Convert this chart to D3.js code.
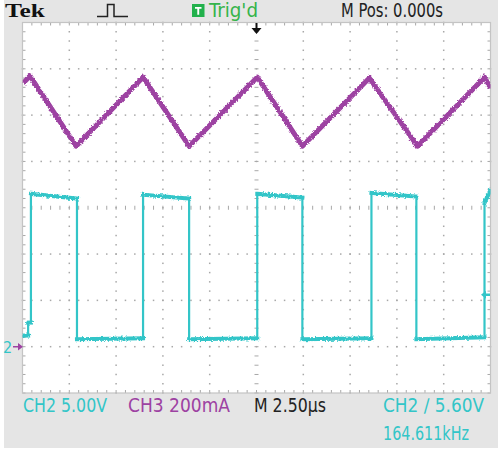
<!DOCTYPE html>
<html><head><meta charset="utf-8">
<script src="https://cdn.jsdelivr.net/npm/d3@7/dist/d3.min.js"></script>
<style>html,body{margin:0;padding:0;background:#fff;overflow:hidden}</style>
</head><body>
<svg id="c" width="502" height="451"></svg>
<script>
// ---- data ----
// CH2: switch-node voltage (V), 5.00 V/div, ground 3 div below centre
const ch2Time  = [0, 0.30, 0.30, 0.45, 0.45, 2.91, 2.91, 6.44, 6.44, 8.90, 8.90, 12.54, 12.54, 14.95, 14.95, 18.64, 18.64, 21.04, 21.04, 24.68, 24.68, 24.85, 25.0];
const ch2Volts = [1.2, 1.2, 2.6, 2.6, 16.5, 16.0, 0.8, 0.9, 16.4, 16.0, 0.8, 0.9, 16.5, 16.1, 0.8, 0.9, 16.6, 16.2, 0.8, 1.0, 15.5, 16.3, 16.9];
// CH3: inductor current (mA), 200 mA/div, referenced to screen centre
const ch3Time  = [0.03, 0.40, 2.86, 6.44, 8.90, 12.54, 14.95, 18.53, 21.10, 24.68, 25.0];
const ch3mA    = [538, 569, 266, 564, 266, 564, 266, 560, 266, 564, 517];
// axis settings
const timePerDiv = 2.5;   // µs
const ch2PerDiv = 5;      // V
const ch3PerDiv = 200;    // mA
const ch2GroundDiv = -3;  // divisions from centre
const trigLevel = 5.6;    // V
const headerLabels = {tek: "Tek", trig: "Trig'd", mpos: "M Pos: 0.000s"};
const footerLabels = ["CH2  5.00V", "CH3  200mA", "M 2.50\u00b5s", "CH2 \u2215 5.60V", "164.611kHz"];

// ---- layout ----
const svg = d3.select("#c");
const L = 22.5, R = 490.5, T = 22.5, B = 393;
const cyan = "#33c5c8", purple = "#9d42a2", green = "#35b44a";
const x = d3.scaleLinear().domain([0, 10 * timePerDiv]).range([L, R]);
const yDiv = d3.scaleLinear().domain([-4, 4]).range([B, T]);
const y2 = d3.scaleLinear().domain([(-4 - ch2GroundDiv) * ch2PerDiv, (4 - ch2GroundDiv) * ch2PerDiv]).range([B, T]);
const y3 = d3.scaleLinear().domain([-4 * ch3PerDiv, 4 * ch3PerDiv]).range([B, T]);

svg.append("rect").attr("x", 4).attr("y", 0).attr("width", 494).attr("height", 448).attr("fill", "#e5e5e5");
svg.append("rect").attr("x", L).attr("y", T).attr("width", R - L).attr("height", B - T).attr("fill", "#fff");

// grid
const g = svg.append("g");
const xs = d3.range(0, 10 * timePerDiv + 0.001, timePerDiv / 5);
const ys = d3.range(-4, 4.001, 0.2);
const gridCol = "#a8a8a8";
for (let d = 1; d < 10; d++) {
  const xv = x(d * timePerDiv);
  ys.forEach(v => {
    if (d === 5) g.append("rect").attr("x", xv - 2).attr("y", yDiv(v) - 0.5).attr("width", 4).attr("height", 1).attr("fill", gridCol);
    else g.append("rect").attr("x", xv - 0.75).attr("y", yDiv(v) - 0.75).attr("width", 1.5).attr("height", 1.5).attr("fill", gridCol);
  });
}
for (let d = -3; d <= 3; d++) {
  const yv = yDiv(d);
  xs.forEach(t => {
    if (d === 0) g.append("rect").attr("x", x(t) - 0.5).attr("y", yv - 2).attr("width", 1).attr("height", 4).attr("fill", gridCol);
    else g.append("rect").attr("x", x(t) - 0.75).attr("y", yv - 0.75).attr("width", 1.5).attr("height", 1.5).attr("fill", gridCol);
  });
}
xs.forEach(t => {
  g.append("line").attr("x1", x(t)).attr("x2", x(t)).attr("y1", T).attr("y2", T + 3).attr("stroke", gridCol);
  g.append("line").attr("x1", x(t)).attr("x2", x(t)).attr("y1", B).attr("y2", B - 3).attr("stroke", gridCol);
});
ys.forEach(v => {
  g.append("line").attr("x1", L).attr("x2", L + 3).attr("y1", yDiv(v)).attr("y2", yDiv(v)).attr("stroke", gridCol);
  g.append("line").attr("x1", R).attr("x2", R - 3).attr("y1", yDiv(v)).attr("y2", yDiv(v)).attr("stroke", gridCol);
});
svg.append("rect").attr("x", L).attr("y", T).attr("width", R - L).attr("height", B - T)
  .attr("fill", "none").attr("stroke", "#c4c4c4").attr("stroke-width", 1.2);

// noise filter
const defs = svg.append("defs");
const f = defs.append("filter").attr("id", "noise").attr("x", "-5%").attr("y", "-20%").attr("width", "110%").attr("height", "140%");
f.append("feTurbulence").attr("type", "fractalNoise").attr("baseFrequency", "0.6").attr("numOctaves", 2).attr("seed", 3).attr("result", "n");
f.append("feDisplacementMap").attr("in", "SourceGraphic").attr("in2", "n").attr("scale", 3.5).attr("xChannelSelector", "R").attr("yChannelSelector", "G");
const clip = defs.append("clipPath").attr("id", "pa");
clip.append("rect").attr("x", L).attr("y", T).attr("width", R - L).attr("height", B - T);

// CH3 triangle trace
const tri = ch3Time.map((t, i) => [t, ch3mA[i]]);
svg.append("path").datum(tri).attr("clip-path", "url(#pa)")
  .attr("d", d3.line().x(d => x(d[0])).y(d => y3(d[1])))
  .attr("fill", "none").attr("stroke", purple).attr("stroke-width", 5).attr("stroke-linejoin", "round")
  .attr("filter", "url(#noise)");

// CH2 square trace: thin vertical edges, thicker noisy flat segments
const sq = ch2Time.map((t, i) => [t, ch2Volts[i]]);
const segs = d3.pairs(sq);
const sg = svg.append("g").attr("clip-path", "url(#pa)");
sg.selectAll("line.v").data(segs.filter(p => p[0][0] === p[1][0])).join("line")
  .attr("x1", p => x(p[0][0])).attr("x2", p => x(p[1][0]))
  .attr("y1", p => y2(p[0][1])).attr("y2", p => y2(p[1][1]))
  .attr("stroke", cyan).attr("stroke-width", 2.2);
sg.append("g").attr("filter", "url(#noise)").selectAll("line").data(segs.filter(p => p[0][0] !== p[1][0])).join("line")
  .attr("x1", p => x(p[0][0])).attr("x2", p => x(p[1][0]))
  .attr("y1", p => y2(p[0][1])).attr("y2", p => y2(p[1][1]))
  .attr("stroke", cyan).attr("stroke-width", 4).attr("stroke-linecap", "square");

// markers
const gy = y2(0);
svg.append("text").attr("x", 3).attr("y", gy + 6).attr("font-family", "Liberation Sans Narrow, DejaVu Sans Condensed, sans-serif")
  .attr("font-size", 16).attr("fill", cyan).text("2");
svg.append("path").attr("d", `M13,${gy - 0.8}h5v-3l5,3.8l-5,3.8v-3h-5z`).attr("fill", purple);
const ty = y2(trigLevel);
svg.append("path").attr("d", `M481,${ty}l5,-4v2.8h4v2.4h-4v2.8z`).attr("fill", cyan);
const tx = x(5 * timePerDiv);
svg.append("path").attr("d", `M${tx - 1},23h2v5h4l-5,6l-5,-6h4z`).attr("fill", "#111");

// header
const narrow = "Liberation Sans Narrow, DejaVu Sans Condensed, Arial Narrow, sans-serif";
svg.append("text").attr("x", 5).attr("y", 17).attr("font-family", "Liberation Serif, DejaVu Serif, serif")
  .attr("font-weight", "bold").attr("font-size", 19).attr("textLength", 40).attr("lengthAdjust", "spacingAndGlyphs")
  .attr("fill", "#111").text(headerLabels.tek);
svg.append("path").attr("d", "M97,16.5H107.5V4.5H114V16.5H128").attr("fill", "none").attr("stroke", "#222").attr("stroke-width", 1.5);
svg.append("rect").attr("x", 192).attr("y", 4).attr("width", 12.5).attr("height", 13).attr("fill", "#22b14c");
svg.append("path").attr("d", "M195,7h6.5v1.8h-2.3v6h-1.9v-6h-2.3z").attr("fill", "#fff");
svg.append("text").attr("x", 209).attr("y", 17).attr("font-family", narrow).attr("font-size", 19)
  .attr("textLength", 49).attr("lengthAdjust", "spacingAndGlyphs").attr("fill", green).text(headerLabels.trig);
svg.append("text").attr("x", 341).attr("y", 17).attr("font-family", narrow).attr("font-size", 19)
  .attr("textLength", 102).attr("lengthAdjust", "spacingAndGlyphs").attr("fill", "#222").text(headerLabels.mpos);

// footer
const foot = [
  {t: footerLabels[0], x: 23, y: 412, w: 84, c: cyan},
  {t: footerLabels[1], x: 128, y: 412, w: 102, c: purple},
  {t: footerLabels[2], x: 254, y: 412, w: 72, c: "#222"},
  {t: footerLabels[3], x: 383, y: 412, w: 101, c: cyan},
  {t: footerLabels[4], x: 383, y: 440, w: 86, c: cyan}
];
svg.selectAll("text.f").data(foot).join("text").attr("class", "f")
  .attr("x", d => d.x).attr("y", d => d.y).attr("font-family", narrow).attr("font-size", 19)
  .attr("textLength", d => d.w).attr("lengthAdjust", "spacingAndGlyphs").attr("fill", d => d.c).text(d => d.t);
</script>
</body></html>
